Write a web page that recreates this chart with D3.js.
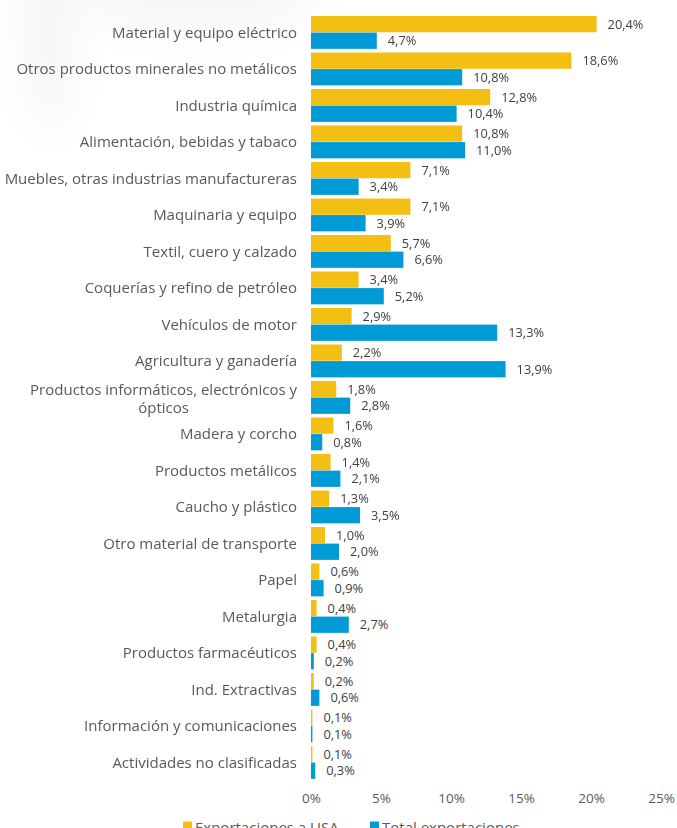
<!DOCTYPE html>
<html>
<head>
<meta charset="utf-8">
<script src="https://cdn.jsdelivr.net/npm/d3@7/dist/d3.min.js"></script>
<style>
  html, body { margin: 0; padding: 0; background: #fff; }
  svg { display: block; }
</style>
</head>
<body>
<div id="chart"></div>
<script>
// Sector labels, top to bottom
const categories = [
  "Material y equipo eléctrico",
  "Otros productos minerales no metálicos",
  "Industria química",
  "Alimentación, bebidas y tabaco",
  "Muebles, otras industrias manufactureras",
  "Maquinaria y equipo",
  "Textil, cuero y calzado",
  "Coquerías y refino de petróleo",
  "Vehículos de motor",
  "Agricultura y ganadería",
  "Productos informáticos, electrónicos y ópticos",
  "Madera y corcho",
  "Productos metálicos",
  "Caucho y plástico",
  "Otro material de transporte",
  "Papel",
  "Metalurgia",
  "Productos farmacéuticos",
  "Ind. Extractivas",
  "Información y comunicaciones",
  "Actividades no clasificadas"
];

// Share of exports to the USA (%)
const exportsUSA = [20.4, 18.6, 12.8, 10.8, 7.1, 7.1, 5.7, 3.4, 2.9, 2.2, 1.8, 1.6, 1.4, 1.3, 1.0, 0.6, 0.4, 0.4, 0.2, 0.1, 0.1];
// Share of total exports (%)
const exportsTotal = [4.7, 10.8, 10.4, 11.0, 3.4, 3.9, 6.6, 5.2, 13.3, 13.9, 2.8, 0.8, 2.1, 3.5, 2.0, 0.9, 2.7, 0.2, 0.6, 0.1, 0.3];

const seriesNames = ["Exportaciones a USA", "Total exportaciones"];
const seriesKeys = ["usa", "total"];
const seriesColors = ["#F3BF13", "#009BD7"];
const xTicks = [0, 5, 10, 15, 20, 25];

const W = 677, H = 828;
const font = "'Open Sans', sans-serif";
const textColor = "#595959";
const labelSize = 15;

const rows = categories.map((c, i) => ({ cat: c, usa: exportsUSA[i], total: exportsTotal[i] }));

const svg = d3.select("#chart").append("svg")
  .attr("width", W).attr("height", H)
  .attr("viewBox", `0 0 ${W} ${H}`);

// Soft grey shading in the upper-left corner
const defs = svg.append("defs");
defs.append("filter").attr("id", "soft")
  .attr("x", "-50%").attr("y", "-50%").attr("width", "200%").attr("height", "200%")
  .append("feGaussianBlur").attr("stdDeviation", 20);
const haze = svg.append("g").attr("filter", "url(#soft)");
haze.append("ellipse").attr("cx", 50).attr("cy", 20).attr("rx", 22).attr("ry", 110)
  .attr("fill", "#000").attr("opacity", 0.045);
haze.append("ellipse").attr("cx", 200).attr("cy", -5).attr("rx", 120).attr("ry", 35)
  .attr("fill", "#000").attr("opacity", 0.035);

const x = d3.scaleLinear().domain([0, 25]).range([311, 661]);

const y = d3.scaleBand()
  .domain(categories)
  .range([12.35, 782.5])
  .paddingInner(0.1)
  .paddingOuter(0.1);

const ySub = d3.scaleBand()
  .domain(seriesKeys)
  .range([0, y.bandwidth()])
  .paddingInner(0.02);

const color = d3.scaleOrdinal().domain(seriesKeys).range(seriesColors);
const fmt = v => d3.format(".1f")(v).replace(".", ",") + "%";

// Bars and value labels
const groups = svg.append("g").selectAll("g")
  .data(rows)
  .join("g")
  .attr("transform", d => `translate(0,${y(d.cat)})`);

groups.selectAll("rect")
  .data(d => seriesKeys.map(k => ({ key: k, value: d[k] })))
  .join("rect")
  .attr("x", x(0))
  .attr("y", d => ySub(d.key))
  .attr("width", d => x(d.value) - x(0))
  .attr("height", ySub.bandwidth())
  .attr("fill", d => color(d.key));

groups.selectAll("text.val")
  .data(d => seriesKeys.map(k => ({ key: k, value: d[k] })))
  .join("text")
  .attr("class", "val")
  .attr("x", d => x(d.value) + 11)
  .attr("y", d => ySub(d.key) + ySub.bandwidth() / 2 + 1)
  .attr("dominant-baseline", "middle")
  .attr("font-family", font)
  .attr("font-size", 12.8)
  .attr("fill", "#404040")
  .text(d => fmt(d.value));

// Category axis (labels only, wrapped when too long)
const maxLabelWidth = 296;
const catAxis = svg.append("g")
  .attr("transform", `translate(${x(0) - 14},0.5)`)
  .call(d3.axisLeft(y).tickSize(0).tickPadding(0));
catAxis.select(".domain").remove();
catAxis.selectAll("text")
  .attr("font-family", font)
  .attr("font-size", labelSize)
  .attr("fill", textColor)
  .each(function (d) {
    const t = d3.select(this);
    if (this.getComputedTextLength() <= maxLabelWidth) return;
    const words = d.split(" ");
    const lines = [];
    let line = [];
    t.text(null);
    const probe = t.append("tspan");
    words.forEach(w => {
      line.push(w);
      probe.text(line.join(" "));
      if (probe.node().getComputedTextLength() > maxLabelWidth && line.length > 1) {
        line.pop();
        lines.push(line.join(" "));
        line = [w];
      }
    });
    lines.push(line.join(" "));
    probe.remove();
    // wrapped block: right edge aligned, lines centred within the block
    const widths = lines.map(l => { const s = t.append("tspan").text(l); const w = s.node().getComputedTextLength(); s.remove(); return w; });
    const blockW = d3.max(widths);
    const lh = 18;
    t.attr("dy", null);
    lines.forEach((l, i) => {
      t.append("tspan")
        .attr("x", -(blockW - widths[i]) / 2)
        .attr("dy", i === 0 ? (0.32 * labelSize - (lines.length - 1) * lh / 2 + 1) : lh)
        .text(l);
    });
  });

// Value axis (tick labels only)
const xAxis = svg.append("g")
  .attr("transform", "translate(0,793)")
  .call(d3.axisBottom(x).tickValues(xTicks).tickFormat(d => d + "%").tickSize(0).tickPadding(0));
xAxis.select(".domain").remove();
xAxis.selectAll("text")
  .attr("font-family", font)
  .attr("font-size", 13.5)
  .attr("fill", textColor);

// Legend
const legend = svg.append("g").attr("transform", "translate(0,820)");
const legendX = [183, 370];
seriesKeys.forEach((k, i) => {
  const g = legend.append("g").attr("transform", `translate(${legendX[i]},0)`);
  g.append("rect").attr("x", 0).attr("y", 1.5).attr("width", 9).attr("height", 9).attr("fill", seriesColors[i]);
  g.append("text").attr("x", 12).attr("y", 12.5).attr("font-family", font).attr("font-size", 15)
    .attr("fill", textColor).text(seriesNames[i]);
});
</script>
</body>
</html>
